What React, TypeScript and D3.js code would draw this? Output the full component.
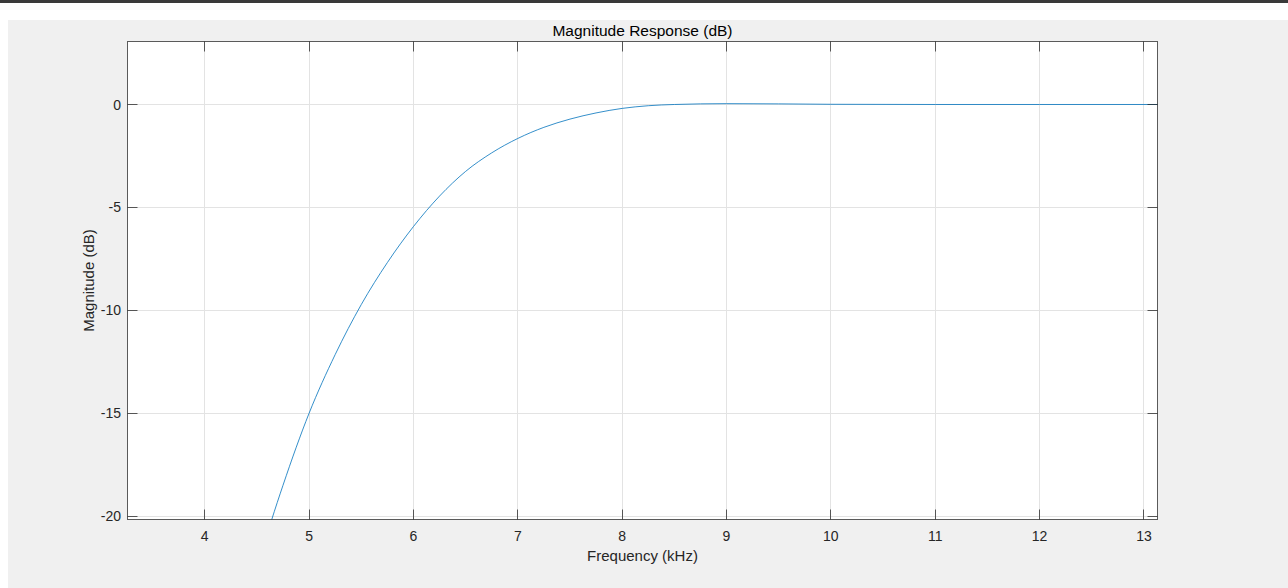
import React from "react";
import { scaleLinear, line, curveMonotoneX } from "d3";

// magnitude response
const freqKHz = [4.5, 4.64, 4.75, 5.0, 5.25, 5.5, 5.75, 6.0, 6.25, 6.5, 6.75, 7.0, 7.25, 7.5, 7.75, 8.0, 8.25, 8.5, 9.0, 9.5, 10.0, 11.0, 12.0, 13.2];
const magDb = [-22.6, -20.2, -18.5, -15.0, -12.15, -9.72, -7.68, -5.93, -4.45, -3.25, -2.35, -1.65, -1.11, -0.71, -0.41, -0.19, -0.06, 0.0, 0.04, 0.03, 0.01, 0.0, 0.0, 0.0];
const xTicks = [4, 5, 6, 7, 8, 9, 10, 11, 12, 13];
const yTicks = [-20, -15, -10, -5, 0];

const W = 1288;
const H = 588;
const plot = { left: 127.5, top: 41.5, right: 1157.5, bottom: 519.5 };
const font = "'Liberation Sans', Arial, Helvetica, sans-serif";
const ink = "#262626";
const crisp = (v: number) => Math.floor(v) + 0.5;

function App() {
  const x = scaleLinear().domain([3.26, 13.13]).range([plot.left, plot.right]);
  const y = scaleLinear().domain([-20.16, 3.06]).range([plot.bottom, plot.top]);

  const pts = freqKHz.map((f, i) => [f, magDb[i]] as [number, number]);
  const path = line<[number, number]>()
    .x((d) => x(d[0]))
    .y((d) => y(d[1]))
    .curve(curveMonotoneX)(pts);

  const tick = 10;
  const pw = plot.right - plot.left;
  const ph = plot.bottom - plot.top;

  return (
    <svg width={W} height={H} style={{ position: "absolute", left: 0, top: 0 }}>
      <rect x={0} y={0} width={W} height={H} fill="#ffffff" />
      <rect x={0} y={0} width={W} height={3} fill="#3a3a3a" />
      <rect x={8} y={20} width={W - 8} height={H - 20} fill="#f0f0f0" />
      <defs>
        <clipPath id="plotClip">
          <rect x={plot.left} y={plot.top} width={pw} height={ph} />
        </clipPath>
      </defs>
      <rect x={plot.left} y={plot.top} width={pw} height={ph} fill="#ffffff" />

      {/* grid */}
      {xTicks.map((t) => (
        <line key={"gx" + t} x1={crisp(x(t))} x2={crisp(x(t))} y1={plot.top} y2={plot.bottom} stroke="#e3e3e3" strokeWidth={1} />
      ))}
      {yTicks.map((t) => (
        <line key={"gy" + t} x1={plot.left} x2={plot.right} y1={crisp(y(t))} y2={crisp(y(t))} stroke="#e3e3e3" strokeWidth={1} />
      ))}

      <path d={path || ""} fill="none" stroke="#0072bd" strokeWidth={0.8} clipPath="url(#plotClip)" />

      {/* ticks */}
      {xTicks.map((t) => (
        <g key={"tx" + t}>
          <line x1={crisp(x(t))} x2={crisp(x(t))} y1={plot.bottom} y2={plot.bottom - tick} stroke={ink} strokeWidth={1} opacity={0.75} />
          <line x1={crisp(x(t))} x2={crisp(x(t))} y1={plot.top} y2={plot.top + tick} stroke={ink} strokeWidth={1} opacity={0.75} />
          <text x={x(t)} y={541} textAnchor="middle" fontFamily={font} fontSize={14} fill={ink}>
            {t}
          </text>
        </g>
      ))}
      {yTicks.map((t) => (
        <g key={"ty" + t}>
          <line x1={plot.left} x2={plot.left + tick} y1={crisp(y(t))} y2={crisp(y(t))} stroke={ink} strokeWidth={1} opacity={0.75} />
          <line x1={plot.right} x2={plot.right - tick} y1={crisp(y(t))} y2={crisp(y(t))} stroke={ink} strokeWidth={1} opacity={0.75} />
          <text x={121} y={y(t)} dy="0.36em" textAnchor="end" fontFamily={font} fontSize={14} fill={ink}>
            {t}
          </text>
        </g>
      ))}

      {/* box */}
      <rect x={plot.left} y={plot.top} width={pw} height={ph} fill="none" stroke={ink} strokeWidth={1} opacity={0.75} />

      <text x={(plot.left + plot.right) / 2} y={36} textAnchor="middle" fontFamily={font} fontSize={15.5} fill="#000">
        Magnitude Response (dB)
      </text>
      <text x={(plot.left + plot.right) / 2} y={561} textAnchor="middle" fontFamily={font} fontSize={15} fill={ink}>
        Frequency (kHz)
      </text>
      <text transform={`translate(93.5,${(plot.top + plot.bottom) / 2}) rotate(-90)`} textAnchor="middle" fontFamily={font} fontSize={15} fill={ink}>
        Magnitude (dB)
      </text>
    </svg>
  );
}

export default App;
